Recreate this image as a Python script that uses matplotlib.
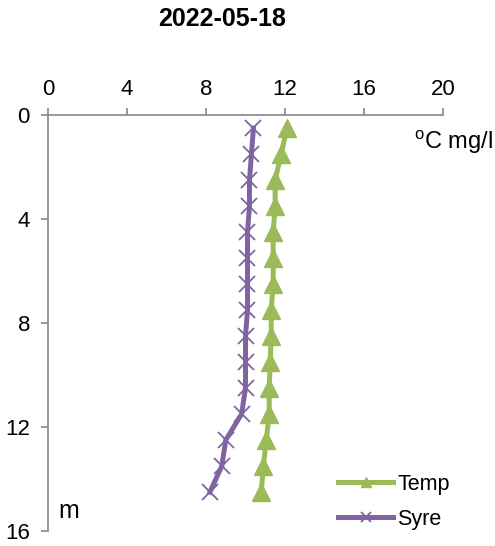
import numpy as np
import matplotlib
matplotlib.use('Agg')
import matplotlib.pyplot as plt

plt.rcParams['font.family'] = ['Liberation Sans', 'DejaVu Sans']
plt.rcParams['mathtext.fontset'] = 'custom'
plt.rcParams['mathtext.rm'] = 'Liberation Sans'

TITLE = '2022-05-18'
depth = [0.5, 1.5, 2.5, 3.5, 4.5, 5.5, 6.5, 7.5, 8.5, 9.5, 10.5, 11.5, 12.5, 13.5, 14.5]
temp = [12.1, 11.8, 11.5, 11.5, 11.4, 11.4, 11.4, 11.3, 11.3, 11.25, 11.2, 11.2, 11.05, 10.9, 10.8]
syre = [10.4, 10.3, 10.2, 10.2, 10.1, 10.1, 10.1, 10.1, 10.0, 10.0, 10.0, 9.8, 9.0, 8.8, 8.2]
x_ticks = [0, 4, 8, 12, 16, 20]
y_ticks = [0, 4, 8, 12, 16]

GREEN = '#9BBB59'
PURPLE = '#8064A2'
GREY = '#868686'

fig = plt.figure(figsize=(4.95, 5.46), dpi=100)
ax = fig.add_axes([0.097, 0.0275, 0.798, 0.7615])

l1, = ax.plot(temp, depth, '-', color=GREEN, linewidth=3.6, marker='^', markersize=13,
              markeredgecolor=GREEN, label='Temp')
l2, = ax.plot(syre, depth, '-', color=PURPLE, linewidth=3.6, marker='x', markersize=12,
              markeredgewidth=1.3, label='Syre')

ax.set_xlim(0, 20)
ax.set_ylim(16, 0)
ax.set_xticks(x_ticks)
ax.set_yticks(y_ticks)
ax.xaxis.tick_top()
ax.xaxis.set_label_position('top')
for s in ('right', 'bottom'):
    ax.spines[s].set_visible(False)
for s in ('top', 'left'):
    ax.spines[s].set_color(GREY)
    ax.spines[s].set_linewidth(1.2)
ax.tick_params(axis='both', colors=GREY, labelcolor='black', labelsize=16,
               length=5, width=1.2, direction='out')
ax.tick_params(axis='x', pad=6)
ax.tick_params(axis='y', pad=8)
for ln in (l1, l2):
    ln.set_clip_on(False)

fig.text(493 / 495, 1 - 142 / 546, r'$^{\mathrm{o}}$C mg/l', ha='right', va='center', fontsize=17)
fig.text(58 / 495, 1 - 511 / 546, 'm', ha='left', va='center', fontsize=18)

fig.text(222 / 495, 1 - 19 / 546, TITLE, ha='center', va='center', fontsize=18, fontweight='bold')

fig.legend(handles=[l1, l2], loc='center left', bbox_to_anchor=(338 / 495, 1 - 502 / 546),
           frameon=False, fontsize=15.5, handlelength=2.56, handletextpad=0.2,
           labelspacing=0.65, markerscale=0.6, borderpad=0, borderaxespad=0)

fig.savefig('out.png', dpi=100)
